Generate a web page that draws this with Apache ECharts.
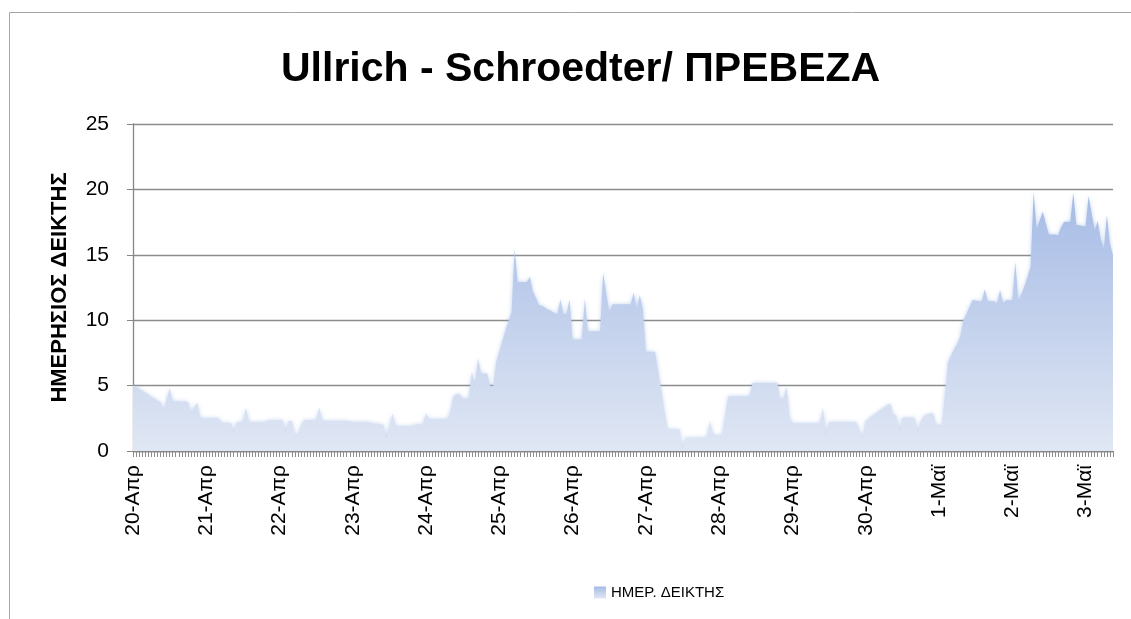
<!DOCTYPE html>
<html>
<head>
<meta charset="utf-8">
<script src="https://cdn.jsdelivr.net/npm/echarts@6/dist/echarts.min.js"></script>
<style>
  html, body { margin: 0; padding: 0; background: #fff; }
  #main { width: 1131px; height: 619px; }
</style>
</head>
<body>
<div id="main"></div>
<script>
// hourly values, one array per day
var apr20 = [5.0, 4.9, 4.75, 4.6, 4.45, 4.3, 4.15, 4.0, 3.85, 3.75, 3.0, 3.9, 4.8, 3.75, 3.8, 3.8, 3.75, 3.8, 3.7, 2.9, 3.3, 3.67, 2.5, 2.5];
var apr21 = [2.5, 2.5, 2.5, 2.5, 2.5, 2.15, 2.15, 2.15, 2.15, 1.45, 2.2, 2.2, 2.2, 3.3, 2.2, 2.2, 2.2, 2.2, 2.2, 2.2, 2.3, 2.35, 2.35, 2.35];
var apr22 = [2.35, 2.35, 1.38, 2.3, 2.3, 1.2, 1.2, 1.9, 2.35, 2.35, 2.35, 2.35, 2.35, 3.3, 2.3, 2.3, 2.3, 2.3, 2.3, 2.3, 2.3, 2.3, 2.3, 2.25];
var apr23 = [2.2, 2.2, 2.2, 2.2, 2.2, 2.2, 2.15, 2.1, 2.05, 2.05, 2.0, 0.95, 1.9, 2.86, 1.9, 1.9, 1.9, 1.9, 1.9, 1.9, 1.95, 2.05, 2.0, 2.0];
var apr24 = [2.86, 2.43, 2.43, 2.43, 2.43, 2.43, 2.43, 2.43, 3.0, 4.19, 4.34, 4.34, 4.0, 4.0, 4.0, 6.05, 4.95, 7.07, 5.9, 5.9, 5.9, 4.95, 4.95, 6.8];
var apr25 = [7.6, 8.4, 9.2, 9.9, 10.6, 15.4, 12.93, 12.93, 12.93, 12.93, 13.3, 12.2, 11.7, 11.15, 11.1, 10.95, 10.8, 10.7, 10.55, 10.46, 11.58, 10.46, 10.5, 11.58];
var apr26 = [8.52, 8.52, 8.52, 8.52, 11.66, 9.16, 9.16, 9.16, 9.16, 9.16, 13.65, 12.1, 10.64, 11.22, 11.22, 11.22, 11.22, 11.22, 11.22, 11.22, 12.09, 10.9, 11.9, 10.9];
var apr27 = [7.58, 7.58, 7.58, 7.58, 6.1, 4.6, 3.1, 1.64, 1.64, 1.64, 1.64, 1.64, 0.05, 1.02, 1.02, 1.02, 1.02, 1.02, 1.02, 1.02, 1.02, 2.3, 1.2, 1.2];
var apr28 = [1.2, 1.2, 2.7, 4.19, 4.19, 4.19, 4.19, 4.19, 4.19, 4.19, 4.19, 5.2, 5.2, 5.2, 5.2, 5.2, 5.2, 5.2, 5.2, 5.2, 3.93, 3.93, 4.95, 2.6];
var apr29 = [2.1, 2.1, 2.1, 2.1, 2.1, 2.1, 2.1, 2.1, 2.1, 2.1, 3.3, 1.2, 2.2, 2.2, 2.2, 2.2, 2.2, 2.2, 2.2, 2.2, 2.2, 2.2, 1.5, 0.95];
var apr30 = [2.3, 2.45, 2.65, 2.8, 2.98, 3.15, 3.3, 3.5, 3.62, 2.73, 2.73, 1.45, 2.55, 2.55, 2.55, 2.55, 2.55, 1.45, 2.2, 2.65, 2.75, 2.85, 2.9, 1.97];
var may01 = [1.97, 1.97, 4.4, 6.81, 7.3, 7.8, 8.2, 8.8, 10.0, 10.5, 11.0, 11.53, 11.5, 11.45, 11.45, 12.37, 11.45, 11.45, 11.45, 11.28, 12.3, 11.3, 11.53, 11.53];
var may02 = [11.53, 14.46, 11.53, 12.0, 12.6, 13.3, 14.08, 19.82, 17.0, 17.65, 18.3, 17.4, 16.58, 16.55, 16.55, 16.5, 17.1, 17.52, 17.52, 17.52, 19.77, 17.27, 17.25, 17.2];
var may03 = [17.19, 19.49, 18.2, 16.89, 17.57, 16.2, 15.5, 18.03, 15.87, 14.97];

var days = ['20-Απρ', '21-Απρ', '22-Απρ', '23-Απρ', '24-Απρ', '25-Απρ', '26-Απρ',
            '27-Απρ', '28-Απρ', '29-Απρ', '30-Απρ', '1-Μαϊ', '2-Μαϊ', '3-Μαϊ'];
var yTicks = [0, 5, 10, 15, 20, 25];

var values = [].concat(apr20, apr21, apr22, apr23, apr24, apr25, apr26,
                       apr27, apr28, apr29, apr30, may01, may02, may03);

// one category per hour, labelled by day
var categories = [];
days.forEach(function (d) {
    for (var h = 0; h < 24; h++) {
        categories.push(d + ' ' + (h < 10 ? '0' : '') + h + ':00');
    }
});
categories = categories.slice(0, values.length);

var fnt = 'Liberation Sans';
var areaGrad = new echarts.graphic.LinearGradient(0, 0, 0, 1, [
    { offset: 0, color: '#a6bbe5' },
    { offset: 1, color: '#e0e7f4' }
]);

var myChart = echarts.init(document.getElementById('main'));

var option = {
    backgroundColor: '#fff',
    animation: false,
    title: {
        text: 'Ullrich - Schroedter/ ΠΡΕΒΕΖΑ',
        left: 276,
        top: 44,
        textStyle: { fontFamily: fnt, fontSize: 41, fontWeight: 'bold', color: '#000' }
    },
    legend: {
        top: 580,
        left: 589,
        itemWidth: 12,
        itemHeight: 12,
        itemGap: 5,
        textStyle: { fontFamily: fnt, fontSize: 15, color: '#000' },
        data: [{ name: 'ΗΜΕΡ. ΔΕΙΚΤΗΣ', icon: 'rect', itemStyle: { color: areaGrad } }]
    },
    grid: { left: 133, right: 18, top: 124, bottom: 168, outerBoundsMode: 'none' },
    xAxis: {
        type: 'category',
        data: categories,
        boundaryGap: false,
        axisLine: { lineStyle: { color: '#868686', width: 1.3 } },
        axisTick: { show: true, interval: 0, length: 6, lineStyle: { color: '#8c8c8c' } },
        axisLabel: {
            interval: 23,
            rotate: 90,
            margin: 14,
            fontFamily: fnt,
            fontSize: 21,
            color: '#000',
            formatter: function (v) { return v.split(' ')[0]; }
        },
        splitLine: { show: false }
    },
    yAxis: {
        type: 'value',
        min: yTicks[0],
        max: yTicks[yTicks.length - 1],
        interval: 5,
        name: 'ΗΜΕΡΗΣΙΟΣ ΔΕΙΚΤΗΣ',
        nameLocation: 'middle',
        nameRotate: 90,
        nameGap: 62,
        nameTextStyle: { fontFamily: fnt, fontSize: 22, fontWeight: 'bold', color: '#000' },
        axisLine: { show: true, lineStyle: { color: '#868686', width: 1.3 } },
        axisTick: { show: true, length: 6, lineStyle: { color: '#868686' } },
        axisLabel: { margin: 24, fontFamily: fnt, fontSize: 21, color: '#000' },
        splitLine: { lineStyle: { color: '#8c8c8c', width: 1.3 } }
    },
    series: [{
        name: 'ΗΜΕΡ. ΔΕΙΚΤΗΣ',
        type: 'line',
        data: values,
        symbol: 'none',
        lineStyle: { width: 0, opacity: 0 },
        itemStyle: { color: areaGrad },
        areaStyle: {
            color: areaGrad,
            opacity: 1,
            shadowBlur: 4,
            shadowColor: 'rgba(150,180,230,0.6)'
        }
    }],
    graphic: [{
        type: 'rect',
        silent: true,
        shape: { x: 9.5, y: 12.5, width: 1200, height: 700 },
        style: { fill: null, stroke: '#a6a6a6', lineWidth: 1 }
    }]
};

option && myChart.setOption(option);
</script>
</body>
</html>
